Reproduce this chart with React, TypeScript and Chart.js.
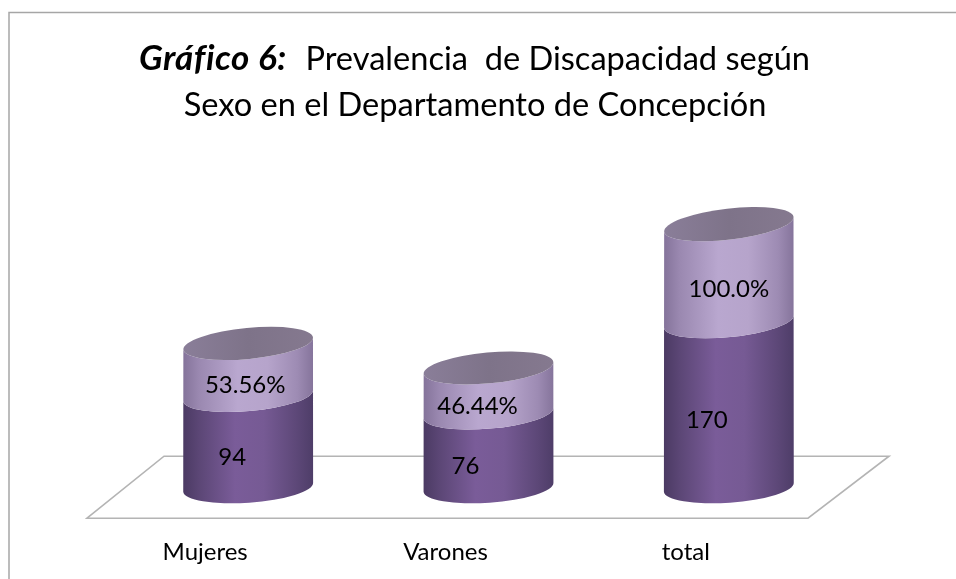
import React, { useEffect, useRef } from "react";
import { Chart, registerables } from "chart.js";

Chart.register(...registerables);

const categories = ["Mujeres", "Varones", "total"];
const countValues = [94, 76, 170];
const percentValues = [53.56, 46.44, 100];
const countLabels = ["94", "76", "170"];
const percentLabels = ["53.56%", "46.44%", "100.0%"];

const FONT = "Lato, Carlito, Calibri, sans-serif";
const DEPTH_X = 41;
const DEPTH_Y = 31;
const FLOOR_SHIFT = 77;
const FLOOR_RISE = 62;
const LABEL_NUDGE = [
  [25, 18, 19],
  [38, 30, 41],
];

function sideGradient(ctx: CanvasRenderingContext2D, left: number, right: number, stops: [number, string][]) {
  const g = ctx.createLinearGradient(left, 0, right, 0);
  stops.forEach(([o, c]) => g.addColorStop(o, c));
  return g;
}

const LOWER: [number, string][] = [
  [0, "#4b3a63"], [0.12, "#5b4675"], [0.4, "#7a5c99"], [0.62, "#765a94"], [0.88, "#5c4777"], [1, "#4e3d68"],
];
const UPPER: [number, string][] = [
  [0, "#84739a"], [0.12, "#9a88b0"], [0.42, "#b9a7cf"], [0.65, "#b6a4cb"], [0.88, "#9d8bb3"], [1, "#85749b"],
];
const TOP: [number, string][] = [
  [0, "#8a7e99"], [0.5, "#7e7389"], [1, "#85798f"],
];

const tilt = (h: number) => -((4 + (2.6 * h) / 265) * Math.PI) / 180;

const cylinders = {
  id: "cylinders",
  beforeDraw(chart: any) {
    const { ctx, chartArea: a } = chart;
    ctx.save();
    ctx.fillStyle = "#ffffff";
    ctx.fillRect(0, 0, chart.width, chart.height);
    // outer chart frame
    ctx.strokeStyle = "#a6a6a6";
    ctx.lineWidth = 1.5;
    ctx.beginPath();
    ctx.moveTo(9, chart.height);
    ctx.lineTo(9, 12.5);
    ctx.lineTo(chart.width, 12.5);
    ctx.stroke();
    // floor
    ctx.strokeStyle = "#b4b4b4";
    ctx.lineWidth = 1.6;
    ctx.beginPath();
    ctx.moveTo(a.left, a.bottom);
    ctx.lineTo(a.left + FLOOR_SHIFT, a.bottom - FLOOR_RISE);
    ctx.lineTo(a.right + FLOOR_SHIFT + 4, a.bottom - FLOOR_RISE);
    ctx.lineTo(a.right, a.bottom);
    ctx.closePath();
    ctx.stroke();
    // title
    ctx.fillStyle = "#000000";
    ctx.textBaseline = "alphabetic";
    const bold = `italic bold 35px ${FONT}`;
    const normal = `32.6px ${FONT}`;
    const run1 = "Gráfico 6:";
    const run2 = "  Prevalencia  de Discapacidad según";
    const line2 = "Sexo en el Departamento de Concepción";
    ctx.font = normal;
    const w2 = ctx.measureText(run2).width;
    ctx.textAlign = "left";
    ctx.fillText(run2, 810 - w2, 70);
    (ctx as any).letterSpacing = "0.5px";
    ctx.font = bold;
    ctx.fillText(run1, 139, 70);
    (ctx as any).letterSpacing = "0px";
    ctx.font = normal;
    ctx.textAlign = "center";
    ctx.fillText(line2, 475, 116);
    ctx.restore();
  },
  afterDatasetsDraw(chart: any) {
    const { ctx } = chart;
    const lower = chart.getDatasetMeta(0).data;
    const upper = chart.getDatasetMeta(1).data;
    const base = lower[0].base - DEPTH_Y;
    lower.forEach((el: any, i: number) => {
      const up = upper[i];
      const cx = el.x + DEPTH_X;
      const rx = el.width / 2;
      const ry = 15.5;
      const y0 = el.base - DEPTH_Y;
      const y1 = el.y - DEPTH_Y;
      const y2 = up.y - DEPTH_Y;
      const segment = (yb: number, yt: number, stops: [number, string][]) => {
        ctx.beginPath();
        ctx.ellipse(cx, yb, rx, ry, tilt(base - yb), 0, Math.PI, false);
        ctx.ellipse(cx, yt, rx, ry, tilt(base - yt), Math.PI, 0, true);
        ctx.closePath();
        ctx.fillStyle = sideGradient(ctx, cx - rx, cx + rx, stops);
        ctx.fill();
      };
      ctx.save();
      segment(y0, y1, LOWER);
      segment(y1, y2, UPPER);
      ctx.beginPath();
      ctx.ellipse(cx, y2, rx, ry, tilt(base - y2), 0, Math.PI * 2);
      ctx.fillStyle = sideGradient(ctx, cx - rx, cx + rx, TOP);
      ctx.fill();
      ctx.restore();

      ctx.save();
      ctx.fillStyle = "#000000";
      ctx.font = `24px ${FONT}`;
      ctx.textAlign = "center";
      ctx.textBaseline = "middle";
      ctx.fillText(countLabels[i], el.x + LABEL_NUDGE[0][i], (el.y + el.base) / 2 - 15);
      ctx.fillText(percentLabels[i], up.x + LABEL_NUDGE[1][i], (up.y + up.base) / 2 - 15);
      ctx.restore();
    });
  },
};

export default function App() {
  const ref = useRef<HTMLCanvasElement>(null);
  useEffect(() => {
    const chart = new Chart(ref.current!, {
      type: "bar",
      data: {
        labels: categories,
        datasets: [
          { label: "Casos", data: countValues, backgroundColor: "rgba(0,0,0,0)" },
          { label: "Porcentaje", data: percentValues, backgroundColor: "rgba(0,0,0,0)" },
        ],
      },
      options: {
        animation: false,
        responsive: false,
        layout: { padding: { left: 87, right: 148, top: 224, bottom: 0 } },
        datasets: { bar: { categoryPercentage: 1, barPercentage: 0.5417 } },
        plugins: { legend: { display: false }, tooltip: { enabled: false }, title: { display: false } },
        scales: {
          x: {
            stacked: true,
            grid: { display: false },
            border: { display: false },
            ticks: { color: "#000000", font: { family: FONT, size: 24 }, padding: 12, maxRotation: 0, labelOffset: -2 },
          },
          y: { stacked: true, display: false, min: 0, max: 302 },
        },
      },
      plugins: [cylinders],
    } as any);
    return () => chart.destroy();
  }, []);
  return (
    <div style={{ position: "absolute", left: 0, top: 0, width: 956, height: 579 }}>
      <canvas ref={ref} width={956} height={579} style={{ display: "block" }} />
    </div>
  );
}
